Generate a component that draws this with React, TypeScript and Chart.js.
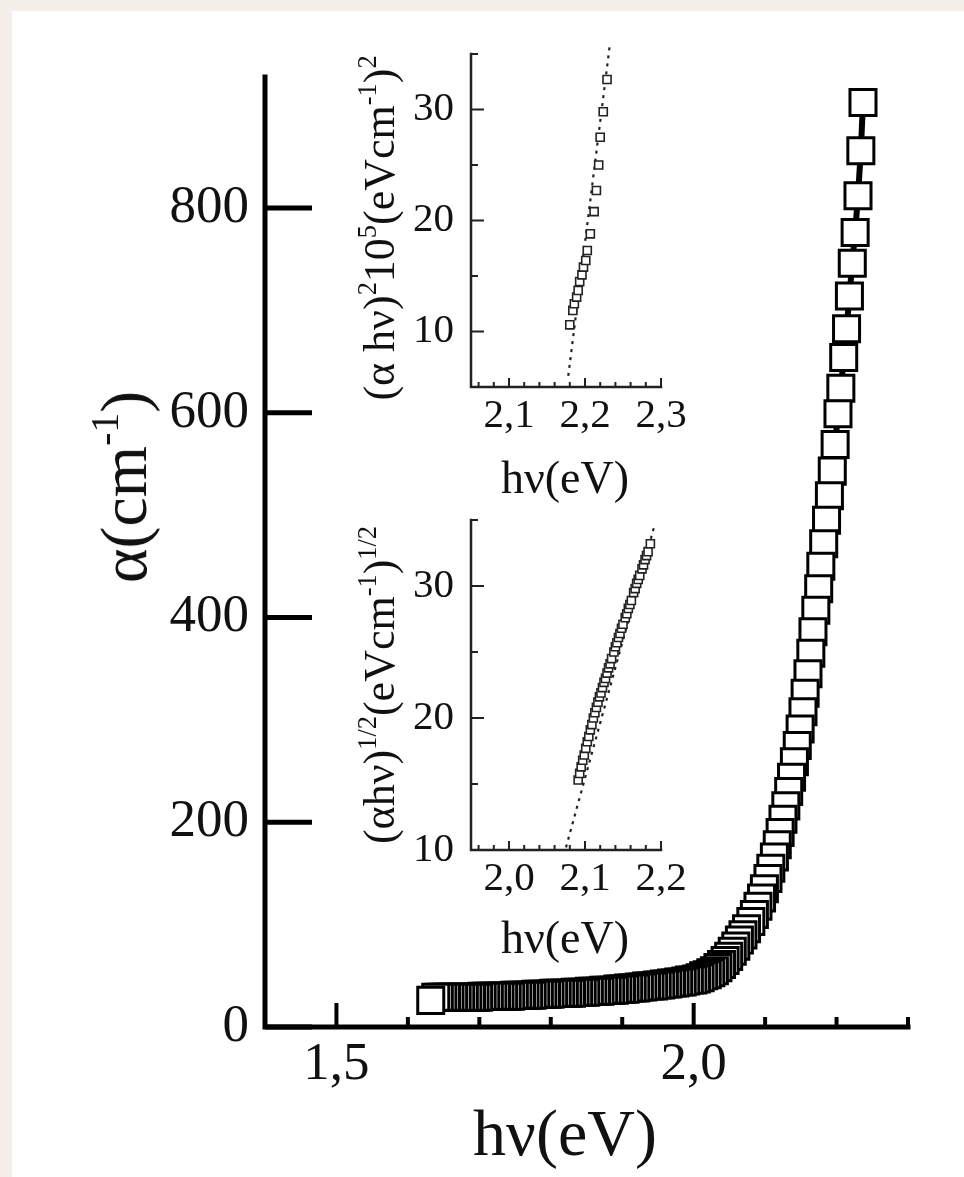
import React, { useEffect, useRef } from "react";
import { Chart, registerables } from "chart.js";

Chart.register(...registerables);

const FONT = "'Liberation Serif', 'Times New Roman', Times, serif";
const W = 964;
const H = 1177;

// ---------------- main plot: alpha vs photon energy (drawn from high to low energy) ----------------
const mainX = [
  2.237, 2.234, 2.230, 2.226, 2.222, 2.218, 2.214, 2.210, 2.206, 2.202,
  2.198, 2.194, 2.190, 2.186, 2.182, 2.178, 2.175, 2.171, 2.167, 2.164,
  2.160, 2.156, 2.153, 2.149, 2.145, 2.141, 2.137, 2.133, 2.129, 2.125,
  2.121, 2.117, 2.113, 2.108, 2.104, 2.099, 2.095, 2.090, 2.085, 2.080,
  2.074, 2.069, 2.064, 2.059, 2.054, 2.049, 2.044, 2.039, 2.034, 2.029,
  2.024, 2.019, 2.014, 2.009, 2.004, 1.999, 1.994, 1.989, 1.984, 1.979,
  1.974, 1.969, 1.964, 1.959, 1.954, 1.949, 1.944, 1.939, 1.934, 1.929,
  1.924, 1.919, 1.914, 1.909, 1.904, 1.899, 1.894, 1.889, 1.884, 1.879,
  1.874, 1.869, 1.864, 1.859, 1.854, 1.849, 1.844, 1.839, 1.834, 1.829,
  1.824, 1.819, 1.814, 1.809, 1.804, 1.799, 1.794, 1.789, 1.784, 1.779,
  1.774, 1.769, 1.764, 1.759, 1.754, 1.749, 1.744, 1.739, 1.734, 1.729,
  1.724, 1.719, 1.714, 1.709, 1.704, 1.699, 1.694, 1.689, 1.684, 1.679,
  1.674, 1.669, 1.664, 1.659, 1.654, 1.649, 1.644, 1.639, 1.632,
];
const mainY = [
  903, 856, 812, 776, 746, 714, 682, 654, 624, 599,
  569, 543, 519, 495, 472, 450, 428, 407, 386, 365,
  345, 326, 308, 291, 275, 259, 244, 230, 216, 203,
  190, 178, 166, 155, 145, 135, 126, 118, 110, 103,
  96, 90, 85, 79, 74, 69, 65, 61, 58, 55,
  53, 51, 50, 48, 47, 46, 46, 45, 44, 44,
  43, 43, 42, 42, 41, 41, 40, 40, 40, 39,
  39, 38, 38, 38, 37, 37, 37, 36, 36, 36,
  36, 35, 35, 35, 35, 34, 34, 34, 34, 33,
  33, 33, 33, 33, 33, 32, 32, 32, 32, 32,
  31, 31, 31, 31, 31, 31, 30, 30, 30, 30,
  30, 30, 30, 30, 30, 29, 29, 29, 29, 29,
  29, 29, 29, 29, 29, 29, 29, 29, 26,
];
const mainXLabels = [1.5, 2.0];
const mainXMinor = [1.6, 1.7, 1.8, 1.9, 2.1, 2.2, 2.3];
const mainYLabels = [0, 200, 400, 600, 800];

// ---------------- inset 1: (alpha h nu)^2 ----------------
const in1X = [2.180, 2.184, 2.186, 2.189, 2.191, 2.193, 2.196, 2.198, 2.201, 2.203, 2.207, 2.212, 2.215, 2.218, 2.220, 2.224, 2.229];
const in1Y = [10.6, 11.9, 12.5, 13.1, 13.7, 14.5, 15.1, 15.8, 16.4, 17.3, 18.8, 20.8, 22.7, 25.0, 27.5, 29.8, 32.7];
const in1FitX = [2.178, 2.233];
const in1FitY = [6.0, 36.0];
const in1XLabels = [2.1, 2.2, 2.3];
const in1XMinor = [2.06, 2.08, 2.12, 2.14, 2.16, 2.18, 2.22, 2.24, 2.26, 2.28];
const in1YLabels = [10, 20, 30];
const in1YMinor = [15, 25, 35];

// ---------------- inset 2: (alpha h nu)^1/2 ----------------
const in2X = [
  2.091, 2.093, 2.095, 2.097, 2.099, 2.101, 2.103, 2.105, 2.107, 2.109,
  2.111, 2.113, 2.115, 2.117, 2.119, 2.121, 2.123, 2.125, 2.127, 2.129,
  2.131, 2.133, 2.135, 2.138, 2.140, 2.142, 2.144, 2.146, 2.148, 2.150,
  2.153, 2.155, 2.157, 2.159, 2.161, 2.164, 2.166, 2.168, 2.170, 2.172,
  2.175, 2.177, 2.179, 2.181, 2.183, 2.186,
];
const in2Y = [
  15.3, 15.8, 16.3, 16.8, 17.2, 17.7, 18.2, 18.6, 19.1, 19.5,
  20.0, 20.4, 20.8, 21.2, 21.6, 21.9, 22.3, 22.7, 23.0, 23.4,
  23.8, 24.1, 24.5, 25.0, 25.4, 25.7, 26.1, 26.4, 26.8, 27.1,
  27.6, 27.9, 28.3, 28.6, 28.9, 29.5, 29.8, 30.2, 30.5, 30.8,
  31.3, 31.6, 32.0, 32.3, 32.6, 33.2,
];
const in2FitX = [2.075, 2.191];
const in2FitY = [10.2, 34.5];
const in2XLabels = [2.0, 2.1, 2.2];
const in2XMinor = [1.96, 1.98, 2.02, 2.04, 2.06, 2.08, 2.12, 2.14, 2.16, 2.18];
const in2YLabels = [10, 20, 30];
const in2YMinor = [15, 25, 35];

const comma = (v: number) => Number(v).toFixed(1).replace(".", ",");
const pts = (xs: number[], ys: number[]) => xs.map((x, i) => ({ x, y: ys[i] }));

type Panel = {
  area: { left: number; top: number; right: number; bottom: number };
  xMin: number; xMax: number; yMin: number; yMax: number;
  xLabels: number[]; yLabels: number[];
  xMinor: number[]; yMinor: number[];
  fontSize: number; xPad: number; yPad: number;
  axisW: number; xTickW: number; yTickW: number;
  xMajLen: number; xMinLen: number; yMajLen: number; yMinLen: number;
  color: string;
  datasets: any[];
};

function axesPlugin(p: Panel) {
  return {
    id: "inwardAxes",
    afterDraw(chart: any) {
      const { ctx, chartArea: a } = chart;
      const xs = chart.scales.x;
      const ys = chart.scales.y;
      ctx.save();
      ctx.strokeStyle = p.color;
      ctx.lineCap = "butt";
      const xt = (vals: number[], len: number) => {
        for (const v of vals) {
          const px = xs.getPixelForValue(v);
          ctx.beginPath();
          ctx.moveTo(px, a.bottom);
          ctx.lineTo(px, a.bottom - len);
          ctx.stroke();
        }
      };
      const yt = (vals: number[], len: number) => {
        for (const v of vals) {
          const py = ys.getPixelForValue(v);
          ctx.beginPath();
          ctx.moveTo(a.left, py);
          ctx.lineTo(a.left + len, py);
          ctx.stroke();
        }
      };
      ctx.lineWidth = p.xTickW;
      xt(p.xLabels, p.xMajLen);
      xt(p.xMinor, p.xMinLen);
      ctx.lineWidth = p.yTickW;
      yt(p.yLabels, p.yMajLen);
      yt(p.yMinor, p.yMinLen);
      ctx.lineWidth = p.axisW;
      ctx.lineCap = "square";
      ctx.beginPath();
      ctx.moveTo(a.left, a.top);
      ctx.lineTo(a.left, a.bottom);
      ctx.lineTo(a.right, a.bottom);
      ctx.stroke();
      ctx.restore();
    },
  };
}

function makeChart(canvas: HTMLCanvasElement, p: Panel, xFmt: (v: number) => string) {
  return new Chart(canvas, {
    type: "scatter",
    data: { datasets: p.datasets },
    options: {
      responsive: false,
      maintainAspectRatio: false,
      animation: false,
      devicePixelRatio: 1,
      events: [],
      layout: { padding: { left: 0, top: p.area.top, right: W - p.area.right, bottom: 0 } },
      plugins: { legend: { display: false }, tooltip: { enabled: false } },
      scales: {
        x: {
          type: "linear",
          min: p.xMin,
          max: p.xMax,
          grid: { display: false, drawTicks: false },
          border: { display: false },
          afterBuildTicks: (s: any) => {
            s.ticks = p.xLabels.map((v) => ({ value: v }));
          },
          afterFit: (s: any) => {
            s.height = H - p.area.bottom;
          },
          ticks: {
            autoSkip: false,
            maxRotation: 0,
            minRotation: 0,
            padding: p.xPad,
            color: "#111",
            font: { family: FONT, size: p.fontSize },
            callback: (v: any) => xFmt(Number(v)),
          },
        },
        y: {
          type: "linear",
          min: p.yMin,
          max: p.yMax,
          grid: { display: false, drawTicks: false },
          border: { display: false },
          afterBuildTicks: (s: any) => {
            s.ticks = p.yLabels.map((v) => ({ value: v }));
          },
          afterFit: (s: any) => {
            s.width = p.area.left;
          },
          ticks: {
            autoSkip: false,
            padding: p.yPad,
            color: "#111",
            font: { family: FONT, size: p.fontSize },
            callback: (v: any) => String(v),
          },
        },
      },
    } as any,
    plugins: [axesPlugin(p)],
  });
}

const mainPanel: Panel = {
  area: { left: 265, top: 77, right: 908, bottom: 1027 },
  xMin: 1.4, xMax: 2.3, yMin: 0, yMax: 928,
  xLabels: mainXLabels, yLabels: mainYLabels, xMinor: mainXMinor, yMinor: [],
  fontSize: 53, xPad: 6, yPad: 16,
  axisW: 5, xTickW: 4, yTickW: 5,
  xMajLen: 24, xMinLen: 10, yMajLen: 47, yMinLen: 0,
  color: "#000",
  datasets: [
    {
      data: pts(mainX, mainY),
      showLine: true,
      borderColor: "#000",
      borderWidth: 6,
      tension: 0,
      pointStyle: "rect",
      pointRadius: 18.4,
      pointBorderWidth: 3,
      pointBorderColor: "#000",
      pointBackgroundColor: "#fff",
      clip: false,
    },
  ],
};

const inset1Panel: Panel = {
  area: { left: 471, top: 54, right: 661, bottom: 387 },
  xMin: 2.05, xMax: 2.3, yMin: 5, yMax: 35,
  xLabels: in1XLabels, yLabels: in1YLabels, xMinor: in1XMinor, yMinor: in1YMinor,
  fontSize: 41, xPad: 5, yPad: 17,
  axisW: 2.5, xTickW: 2, yTickW: 2,
  xMajLen: 9, xMinLen: 5, yMajLen: 13, yMinLen: 7,
  color: "#222",
  datasets: [
    {
      data: pts(in1X, in1Y),
      showLine: false,
      pointStyle: "rect",
      pointRadius: 5.7,
      pointBorderWidth: 1.6,
      pointBorderColor: "#222",
      pointBackgroundColor: "#fff",
    },
    {
      data: pts(in1FitX, in1FitY),
      showLine: true,
      borderColor: "#222",
      borderWidth: 2.2,
      borderDash: [3, 5],
      pointRadius: 0,
      clip: false,
    },
  ],
};

const inset2Panel: Panel = {
  area: { left: 471, top: 520, right: 661, bottom: 850 },
  xMin: 1.95, xMax: 2.2, yMin: 10, yMax: 35,
  xLabels: in2XLabels, yLabels: in2YLabels, xMinor: in2XMinor, yMinor: in2YMinor,
  fontSize: 41, xPad: 5, yPad: 17,
  axisW: 2.5, xTickW: 2, yTickW: 2,
  xMajLen: 9, xMinLen: 5, yMajLen: 13, yMinLen: 7,
  color: "#222",
  datasets: [
    {
      data: pts(in2X, in2Y),
      showLine: false,
      pointStyle: "rect",
      pointRadius: 5.7,
      pointBorderWidth: 1.6,
      pointBorderColor: "#222",
      pointBackgroundColor: "#fff",
    },
    {
      data: pts(in2FitX, in2FitY),
      showLine: true,
      borderColor: "#222",
      borderWidth: 2.2,
      borderDash: [3, 5],
      pointRadius: 0,
      clip: false,
    },
  ],
};

const supStyle: React.CSSProperties = { fontSize: "0.6em", verticalAlign: "0.7em", lineHeight: 0 };

function Title(props: { cx: number; cy: number; size: number; rotate?: boolean; children: React.ReactNode }) {
  return (
    <div
      style={{
        position: "absolute",
        left: props.cx,
        top: props.cy,
        transform: `translate(-50%, -50%)${props.rotate ? " rotate(-90deg)" : ""}`,
        fontFamily: FONT,
        fontSize: props.size,
        lineHeight: 1,
        whiteSpace: "nowrap",
        color: "#111",
      }}
    >
      {props.children}
    </div>
  );
}

export default function App() {
  const r1 = useRef<HTMLCanvasElement>(null);
  const r2 = useRef<HTMLCanvasElement>(null);
  const r3 = useRef<HTMLCanvasElement>(null);

  useEffect(() => {
    const charts = [
      makeChart(r1.current!, mainPanel, comma),
      makeChart(r2.current!, inset1Panel, comma),
      makeChart(r3.current!, inset2Panel, comma),
    ];
    return () => charts.forEach((c) => c.destroy());
  }, []);

  const cv: React.CSSProperties = { position: "absolute", left: 0, top: 0 };

  return (
    <div style={{ position: "fixed", left: 0, top: 0, width: W, height: H, background: "#f4efe8", overflow: "hidden" }}>
      <div style={{ position: "absolute", left: 12, top: 11, right: 0, bottom: 0, background: "#fff" }} />
      <canvas ref={r1} width={W} height={H} style={cv} />
      <canvas ref={r2} width={W} height={H} style={cv} />
      <canvas ref={r3} width={W} height={H} style={cv} />

      <Title cx={124} cy={487} size={66} rotate>
        α(cm<span style={supStyle}>-1</span>)
      </Title>
      <Title cx={565} cy={1133} size={66}>hν(eV)</Title>

      <Title cx={380} cy={228} size={44} rotate>
        (α hν)<span style={supStyle}>2</span>10<span style={supStyle}>5</span>(eVcm<span style={supStyle}>-1</span>)<span style={supStyle}>2</span>
      </Title>
      <Title cx={565} cy={478} size={46}>hν(eV)</Title>

      <Title cx={380} cy={685} size={44} rotate>
        (αhν)<span style={supStyle}>1/2</span>(eVcm<span style={supStyle}>-1</span>)<span style={supStyle}>1/2</span>
      </Title>
      <Title cx={565} cy={938} size={46}>hν(eV)</Title>
    </div>
  );
}
